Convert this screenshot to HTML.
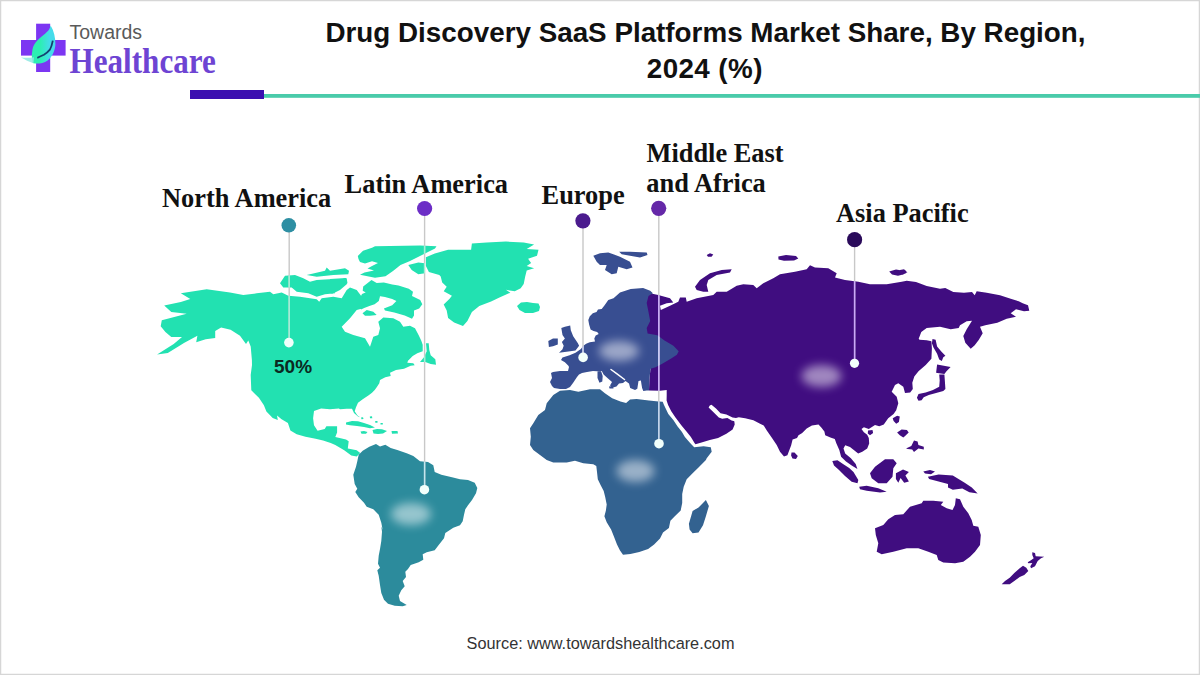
<!DOCTYPE html>
<html><head><meta charset="utf-8"><style>
html,body{margin:0;padding:0;background:#fff;}
#wrap{position:relative;width:1200px;height:675px;overflow:hidden;background:#fff;}
#wrap svg{position:absolute;left:0;top:0;}
</style></head><body><div id="wrap">
<svg width="1200" height="675" viewBox="0 0 1200 675">
<defs>
 <filter id="blur" x="-50%" y="-50%" width="200%" height="200%"><feGaussianBlur stdDeviation="5"/></filter>
 <linearGradient id="leaf" x1="0" y1="0" x2="1" y2="0">
  <stop offset="0.35" stop-color="#2cefb2"/><stop offset="0.75" stop-color="#45dcea"/>
 </linearGradient>
</defs>
<rect x="0.5" y="0.5" width="1199" height="674" fill="#fff" stroke="#d6d6d6" stroke-width="1.5"/>
<!-- logo -->
<g>
 <rect x="36.1" y="23.7" width="14.1" height="48.3" fill="#7c36f2"/>
 <rect x="21" y="40" width="44.6" height="15.6" fill="#7c36f2"/>
 <path d="M50.6,25.6 C54,31 55.5,38 55.4,44.4 C55,51 52,57 47.6,60.4 C43,63.5 37,64.2 32.8,63 C31.8,59 31.6,54.5 32.1,52.6 C32.4,48 33.5,45 35.8,42.2 C39,38 44,35 48.4,30.4 C49.5,29 50.3,27 50.6,25.6 Z" fill="url(#leaf)"/>
 <path d="M21,57.4 C25,59.5 29,61.8 33.5,63.2 L34,57.2 C29,58.2 25,57.8 21,57.4Z" fill="#8fe8e2" opacity="0.85"/>
 <path d="M52.8,40.7 C52,45 51.2,47.5 49.9,49.6 C47.5,52.5 46,53.5 43.9,54.8 C41.5,56 39.5,57 37.3,57.8" fill="none" stroke="#14406f" stroke-width="1.8"/>
 <text x="69.5" y="39" font-family="'Liberation Sans', sans-serif" font-size="19.5" fill="#5a5a5a">Towards</text>
 <text x="0" y="0" transform="translate(69.5,73.4) scale(0.865,1)" font-family="'Liberation Serif', serif" font-weight="bold" font-size="36" fill="#6e44d3">Healthcare</text>
</g>
<!-- title -->
<g font-family="'Liberation Sans', sans-serif" font-weight="bold" font-size="27.8" fill="#111" text-anchor="middle">
 <text x="705.5" y="42">Drug Discovery SaaS Platforms Market Share, By Region,</text>
 <text x="704.8" y="78" letter-spacing="0.4">2024 (%)</text>
</g>
<rect x="190" y="90" width="74" height="9" fill="#3b0fb0"/>
<rect x="264" y="94" width="936" height="3.8" fill="#4acbaa"/>

<defs><clipPath id="cNA"><path d="M180.8,293.3 L206.7,289.2 L230.0,292.5 L243.3,295.0 L256.7,293.3 L270.0,291.7 L273.3,294.2 L281.7,292.5 L288.3,295.8 L300.0,296.7 L316.7,299.2 L319.2,301.7 L321.7,298.3 L333.3,296.7 L341.7,298.3 L346.7,290.0 L350.0,287.5 L356.7,290.0 L362.0,297.0 L366.7,305.0 L363.3,308.3 L356.7,310.0 L350.0,318.3 L341.7,326.7 L345.0,331.7 L353.3,335.0 L365.0,338.3 L370.0,346.7 L373.3,336.7 L378.3,335.0 L380.0,328.3 L378.3,321.7 L383.3,317.5 L393.3,318.3 L400.0,321.7 L403.3,326.7 L410.0,325.8 L415.0,328.3 L418.7,335.3 L421.3,340.7 L422.7,344.7 L422.7,351.3 L417.3,353.3 L412.7,356.0 L408.0,360.7 L407.3,362.7 L413.3,363.3 L414.7,365.3 L410.7,365.7 L404.0,368.7 L396.0,370.0 L390.0,372.7 L390.7,376.0 L385.3,377.3 L380.0,380.0 L379.3,383.3 L376.7,387.3 L374.7,390.0 L372.0,392.7 L368.7,395.3 L362.7,399.3 L358.0,402.7 L356.0,407.3 L354.7,411.3 L357.3,415.3 L360.0,417.3 L358.0,416.5 L354.0,413.0 L352.0,408.7 L346.7,408.7 L340.0,409.3 L338.9,408.4 L330.0,409.3 L321.1,408.4 L314.0,411.1 L313.1,418.2 L314.0,425.3 L317.6,430.7 L324.7,428.9 L326.4,426.2 L337.1,426.2 L337.1,432.4 L335.3,436.9 L346.0,439.6 L348.7,441.3 L347.8,448.4 L356.7,450.2 L360.2,452.9 L356.7,456.4 L351.3,455.6 L344.2,450.2 L335.3,444.9 L330.7,443.1 L323.1,440.6 L315.6,438.7 L305.5,436.8 L296.7,434.3 L290.4,430.5 L287.9,423.0 L281.6,419.2 L277.0,415.5 L277.8,420.0 L272.7,417.9 L266.4,411.6 L263.9,405.3 L258.9,397.8 L251.3,390.2 L250.7,375.1 L252.0,365.0 L251.9,360.0 L250.7,346.4 L248.3,340.4 L246.0,344.0 L240.0,335.7 L230.6,329.8 L221.1,327.4 L215.2,331.0 L215.2,338.1 L205.7,339.2 L196.2,342.2 L197.4,335.7 L184.4,342.8 L167.8,352.9 L157.1,354.6 L173.7,344.0 L182.0,336.9 L171.3,336.9 L165.4,332.1 L160.7,326.2 L161.8,320.3 L186.7,313.8 L171.3,312.0 L164.2,305.5 L180.8,302.0 L190.3,299.0ZM280.0,283.3 L285.0,275.8 L295.0,275.0 L303.3,278.3 L310.0,281.7 L316.7,280.0 L346.7,278.3 L347.5,283.3 L333.3,286.7 L335.0,293.3 L325.0,294.2 L316.7,296.7 L308.3,293.3 L296.7,291.7 L291.7,287.5 L283.3,287.5ZM306.7,275.0 L325.0,270.8 L326.7,267.5 L330.0,270.8 L345.0,268.3 L349.0,270.8 L348.3,274.2 L333.3,275.0 L316.7,276.7ZM357.8,256.0 L363.0,250.8 L372.0,247.8 L375.0,246.3 L420.0,245.5 L436.5,246.3 L435.0,248.5 L420.0,256.0 L409.5,261.3 L400.5,265.0 L393.0,271.0 L385.5,276.3 L375.0,277.8 L360.0,274.8 L364.5,272.5 L374.0,270.5 L367.5,268.5 L372.0,266.0 L378.0,263.0 L372.0,261.3 L365.0,263.5 L360.0,262.0 L358.5,259.0ZM408.3,265.0 L418.3,262.5 L425.0,263.3 L425.0,273.3 L418.3,274.2 L411.7,270.0ZM363.2,286.6 L371.5,279.9 L376.7,283.0 L383.9,282.4 L392.2,284.5 L398.5,285.6 L408.8,288.7 L413.0,291.8 L412.0,295.9 L420.2,300.1 L422.3,304.2 L419.2,308.4 L414.0,310.5 L414.0,315.6 L412.0,318.8 L404.7,315.6 L394.3,312.5 L385.0,310.5 L383.9,308.4 L392.2,305.3 L396.4,301.1 L392.2,299.0 L385.0,297.0 L378.8,295.9 L373.6,298.0 L371.5,295.9 L371.5,293.3 L366.3,292.8 L362.7,290.7ZM330.0,279.0 L346.0,278.0 L347.0,284.0 L340.0,290.0 L332.0,294.0 L330.0,292.0ZM362.5,313.3 L366.7,310.0 L373.3,311.7 L376.7,315.0 L370.0,315.8 L365.0,315.8ZM359.0,300.0 L362.0,294.0 L369.0,291.0 L376.0,293.0 L380.0,296.5 L378.8,301.1 L374.6,304.2 L369.4,306.0 L364.2,308.0 L361.0,309.4 L359.5,305.0ZM426.0,343.3 L428.7,343.3 L429.3,350.0 L430.7,355.3 L435.3,359.3 L436.0,364.7 L430.7,364.0 L425.3,362.0 L420.0,362.0 L424.0,357.3 L426.7,351.3ZM425.9,257.2 L434.8,253.5 L448.1,249.8 L471.1,249.8 L471.9,243.6 L486.7,242.4 L505.9,241.6 L523.7,242.4 L534.1,244.6 L526.7,249.0 L538.5,249.8 L537.0,255.7 L528.1,258.7 L531.1,263.1 L526.7,266.1 L534.1,268.3 L526.7,270.5 L525.2,276.4 L523.7,283.9 L520.7,288.3 L514.8,291.3 L505.9,289.8 L510.4,292.7 L500.0,297.2 L491.1,301.6 L479.3,306.1 L471.9,312.0 L467.4,320.9 L463.0,326.1 L454.1,322.4 L448.1,317.9 L446.7,310.5 L443.7,304.6 L449.6,298.7 L451.9,295.7 L443.7,291.3 L446.7,286.8 L442.2,282.4 L440.7,276.4 L439.3,275.0 L428.9,272.0 L425.9,266.1ZM517.0,306.0 L521.0,302.5 L527.0,302.0 L533.0,303.0 L538.5,303.5 L540.0,307.0 L539.0,311.0 L533.0,313.0 L525.0,313.0 L519.5,310.0ZM346.0,422.5 L352.0,421.0 L358.0,421.3 L364.0,423.0 L370.0,425.0 L375.0,427.5 L370.0,428.2 L364.0,427.0 L357.0,426.0 L350.0,425.3 L346.0,424.5ZM372.5,430.0 L377.0,429.0 L382.0,429.2 L387.0,431.0 L383.0,433.5 L378.0,434.0 L373.5,433.5ZM360.5,431.5 L364.0,431.0 L367.5,432.0 L366.0,433.8 L361.5,433.8ZM391.5,431.0 L397.5,431.0 L398.0,433.5 L392.0,433.8ZM361.0,417.5 L363.0,417.2 L363.5,419.0 L361.5,419.3ZM369.8,416.5 L372.0,416.3 L372.3,418.3 L370.0,418.3ZM375.2,421.0 L377.5,421.0 L377.5,422.8 L375.3,422.8ZM380.5,423.0 L382.8,423.0 L382.8,424.6 L380.5,424.6Z"/></clipPath><clipPath id="cSA"><path d="M358.7,454.7 L362.7,450.7 L369.3,446.7 L376.0,444.0 L380.0,446.4 L385.3,444.7 L390.7,448.0 L397.3,450.0 L406.7,453.3 L413.3,456.0 L420.0,461.3 L428.0,462.0 L433.3,465.3 L434.7,472.0 L441.3,474.7 L452.0,477.3 L460.0,479.3 L468.0,480.0 L474.7,482.7 L477.3,488.0 L476.0,493.3 L472.0,500.0 L468.0,505.3 L465.3,509.3 L464.0,514.7 L462.7,521.3 L460.0,525.3 L453.3,527.7 L445.3,533.0 L444.0,538.3 L438.7,545.0 L434.7,550.3 L426.7,552.3 L422.7,554.3 L423.3,559.7 L418.7,562.3 L410.7,565.0 L408.0,569.0 L405.3,571.7 L406.0,577.0 L402.7,581.0 L404.7,586.3 L401.3,590.3 L398.7,595.7 L400.0,601.0 L406.7,605.0 L402.7,606.3 L394.7,605.7 L388.0,603.7 L384.0,599.7 L381.3,593.0 L380.0,585.0 L378.7,575.7 L377.3,570.3 L380.0,567.7 L378.0,563.7 L378.7,555.7 L380.0,549.0 L381.3,541.0 L382.0,531.7 L381.3,526.3 L382.7,530.0 L381.3,522.7 L378.7,514.7 L373.3,509.3 L366.7,506.7 L364.0,502.7 L358.7,497.3 L355.3,492.0 L357.3,488.7 L354.7,484.0 L353.3,474.7 L356.0,466.7 L357.3,461.3Z"/></clipPath><clipPath id="cAF"><path d="M553.3,395.0 L560.0,390.8 L570.0,390.0 L578.3,391.7 L590.0,389.2 L600.0,389.2 L604.9,393.3 L612.2,398.2 L620.4,401.4 L626.1,403.0 L630.1,399.4 L636.6,399.0 L648.9,400.6 L658.6,401.4 L662.7,401.8 L664.0,405.0 L668.3,414.0 L673.5,420.3 L677.6,426.5 L681.8,431.7 L684.9,436.9 L690.1,443.1 L694.2,447.2 L703.6,446.2 L710.8,447.2 L711.7,451.7 L706.7,458.3 L705.9,460.0 L698.5,467.4 L692.6,473.3 L686.7,479.3 L683.7,486.7 L682.2,494.1 L682.2,503.0 L680.7,510.4 L674.8,516.3 L670.4,520.7 L668.9,528.1 L663.0,532.6 L660.0,538.5 L654.1,544.4 L648.1,548.9 L639.3,551.9 L630.4,554.1 L623.0,554.8 L620.0,550.4 L617.0,544.4 L614.1,537.0 L611.1,529.6 L606.7,522.2 L604.4,516.3 L605.9,510.4 L606.7,504.4 L605.2,497.0 L603.7,491.1 L600.7,485.2 L597.8,479.3 L597.0,471.9 L596.3,465.9 L593.3,464.2 L583.3,463.3 L575.0,460.8 L566.7,462.5 L553.3,462.5 L546.7,460.0 L540.0,455.0 L533.3,450.0 L530.0,445.0 L530.8,436.7 L530.0,428.3 L533.3,423.3 L538.3,415.0 L545.0,410.0 L546.7,403.3ZM705.9,500.0 L708.9,505.9 L705.9,516.3 L703.0,525.2 L698.5,532.6 L692.6,533.3 L689.6,529.6 L688.9,523.7 L691.1,516.3 L692.6,511.1 L698.5,507.4 L703.0,503.0Z"/></clipPath><clipPath id="cAS"><path d="M646.7,294.2 L650.0,293.3 L658.3,295.0 L670.0,298.3 L673.3,302.5 L666.7,303.3 L660.0,305.8 L660.8,310.0 L670.0,305.8 L678.3,301.7 L680.0,297.5 L685.8,297.5 L686.7,301.7 L696.7,298.3 L713.3,295.0 L716.7,291.7 L726.7,291.7 L736.7,285.8 L743.3,284.2 L753.3,285.0 L756.7,288.3 L763.3,283.3 L773.3,278.3 L780.0,274.2 L795.0,271.7 L806.7,269.2 L810.0,265.3 L815.0,267.5 L828.3,268.3 L836.7,273.3 L835.0,277.5 L845.0,280.0 L858.3,281.7 L870.0,284.2 L886.7,284.2 L901.7,281.7 L906.7,280.7 L916.0,282.0 L926.7,286.0 L940.0,288.7 L945.3,288.0 L953.3,292.0 L964.0,292.7 L972.0,292.0 L974.7,295.3 L976.7,291.3 L986.7,292.7 L1000.0,295.3 L1010.7,298.7 L1018.7,301.3 L1022.7,303.3 L1028.0,305.3 L1029.3,310.7 L1024.0,311.3 L1016.0,309.3 L1010.7,313.3 L1016.0,316.7 L1006.7,318.7 L997.3,322.7 L985.3,325.3 L980.0,326.7 L982.7,333.3 L978.7,340.0 L974.7,345.3 L970.7,348.7 L965.3,342.7 L963.3,336.0 L966.7,329.3 L972.0,320.7 L966.7,321.3 L960.0,325.3 L958.7,328.0 L950.7,329.3 L940.0,326.7 L926.7,328.0 L921.3,332.0 L918.7,338.7 L919.5,339.7 L926.8,340.2 L931.4,341.2 L931.9,348.5 L931.4,358.8 L925.7,365.1 L918.5,371.3 L914.3,376.5 L912.3,382.7 L912.8,388.9 L910.2,392.5 L905.0,393.0 L903.3,386.7 L898.3,383.3 L895.0,385.0 L891.7,391.7 L896.7,396.7 L898.3,403.3 L896.2,410.3 L893.6,413.9 L888.2,418.3 L883.8,424.6 L879.3,426.3 L875.0,424.9 L868.8,429.0 L863.9,427.3 L861.5,429.0 L863.9,432.2 L867.2,434.7 L868.8,437.9 L869.2,443.6 L867.2,448.5 L862.3,451.8 L858.2,453.4 L854.1,450.2 L850.0,446.9 L845.2,445.3 L843.5,448.5 L845.2,453.4 L850.9,458.3 L855.7,464.0 L857.4,468.9 L851.7,465.6 L846.0,461.6 L841.1,456.7 L839.3,450.0 L836.3,443.3 L834.8,438.9 L830.4,437.4 L825.2,435.2 L824.4,431.5 L821.5,427.8 L818.5,424.4 L811.9,425.6 L806.7,428.5 L802.2,433.0 L798.5,435.2 L797.0,438.1 L792.6,439.6 L791.1,445.6 L787.4,455.2 L784.0,456.5 L780.0,451.7 L776.7,445.0 L772.0,437.9 L766.8,430.6 L763.7,425.5 L759.6,423.4 L753.4,420.3 L745.1,418.2 L738.8,417.2 L734.0,418.5 L734.7,424.4 L732.6,429.6 L726.4,433.8 L718.1,437.9 L709.8,440.0 L701.5,442.6 L695.5,444.3 L694.5,443.0 L690.9,436.9 L686.7,431.7 L681.5,425.5 L675.3,417.2 L671.1,410.9 L668.1,405.0 L666.6,400.6 L666.7,395.0 L666.7,390.0 L660.0,390.8 L649.0,390.5 L649.4,379.6 L650.5,368.8 L646.7,340.0 L640.0,320.0 L640.0,300.0ZM695.0,286.7 L700.0,280.0 L710.0,273.3 L721.7,270.0 L731.7,269.2 L730.0,272.5 L716.7,275.0 L708.3,280.0 L706.7,285.0 L708.3,291.7 L703.3,291.7 L696.7,290.0ZM778.3,256.5 L786.0,255.0 L796.0,256.0 L798.3,258.5 L794.0,260.5 L784.0,260.8 L778.5,259.5ZM889.2,271.5 L896.0,269.5 L902.0,270.5 L907.5,272.5 L903.0,274.5 L898.0,275.8 L892.0,274.5ZM900.0,270.0 L904.0,269.3 L906.7,271.5 L903.0,274.7 L900.0,273.0ZM706.7,255.0 L710.0,253.3 L713.3,254.5 L711.5,256.7 L708.0,256.7ZM932.5,339.1 L935.6,339.7 L937.1,346.4 L941.3,351.6 L945.4,355.7 L943.3,357.3 L941.8,360.9 L939.2,359.4 L937.1,353.7 L933.5,347.4 L931.9,343.3ZM937.1,364.5 L950.6,367.1 L946.5,371.3 L944.4,373.9 L939.2,373.3 L936.1,372.8ZM939.2,374.4 L944.4,374.4 L944.9,381.6 L945.4,388.9 L943.3,391.0 L936.1,393.0 L928.8,395.1 L923.7,397.2 L921.6,400.3 L918.5,400.8 L916.9,397.7 L918.5,394.1 L925.7,392.5 L933.0,389.9 L939.2,386.8 L939.7,380.6ZM892.7,418.3 L897.1,415.7 L899.8,416.6 L898.9,421.9 L896.2,423.7 L893.6,421.0ZM897.1,432.6 L901.6,429.4 L906.9,429.9 L908.7,432.6 L905.1,436.1 L903.3,437.4 L899.8,435.2ZM906.0,448.6 L911.3,445.9 L914.0,440.6 L917.6,441.4 L918.4,445.0 L923.8,446.8 L923.8,449.4 L918.4,448.6 L914.0,452.1 L912.2,449.4 L907.8,449.0ZM868.0,430.5 L872.5,429.9 L873.1,433.0 L870.0,435.2 L867.8,433.5ZM791.5,452.5 L794.5,452.5 L797.8,456.0 L796.0,458.9 L792.5,458.5 L791.1,455.5ZM832.3,461.0 L837.5,460.2 L843.0,464.0 L849.2,468.1 L853.5,472.0 L858.3,480.0 L857.5,483.3 L851.7,481.7 L845.0,476.0 L839.0,470.0 L834.0,465.5ZM859.2,486.7 L866.7,485.8 L878.3,488.3 L886.7,491.7 L880.0,492.5 L866.7,490.8 L860.0,489.2ZM870.0,473.3 L875.0,466.7 L885.0,459.2 L893.3,459.2 L896.7,463.3 L893.3,468.3 L892.5,476.7 L886.7,483.3 L878.3,483.3 L871.7,478.3ZM895.9,473.2 L903.0,469.6 L908.9,472.0 L905.4,475.6 L908.9,481.5 L904.2,482.7 L900.6,477.9 L898.3,482.7 L895.9,479.1ZM927.9,476.8 L938.6,474.4 L952.8,475.6 L964.7,482.7 L971.8,487.4 L977.7,493.4 L969.4,492.2 L962.3,488.6 L952.8,489.8 L948.0,487.4 L948.0,483.9 L938.6,481.5 L929.1,479.1ZM923.3,471.5 L930.0,470.0 L935.0,471.5 L931.0,474.2 L925.0,473.5ZM875.0,528.3 L883.3,525.0 L888.3,519.2 L895.0,515.0 L903.3,514.2 L910.0,506.7 L921.7,503.3 L923.3,500.8 L933.3,500.8 L943.3,501.7 L940.8,505.0 L946.7,508.3 L952.5,510.0 L955.0,505.0 L955.8,498.3 L960.0,499.2 L963.3,506.7 L968.3,513.3 L971.7,520.0 L973.3,525.8 L978.3,526.7 L980.8,535.0 L980.0,545.0 L975.0,551.7 L970.0,556.7 L963.3,561.7 L955.0,563.3 L943.3,562.5 L938.3,560.0 L936.7,555.0 L928.3,551.7 L918.3,548.3 L906.7,548.3 L893.3,551.7 L881.7,554.2 L876.7,551.7 L878.3,543.3 L875.8,535.0ZM1032.3,552.3 L1035.0,553.0 L1035.7,556.3 L1044.3,556.7 L1041.0,558.3 L1037.7,561.0 L1035.0,566.3 L1031.0,568.3 L1030.3,566.3 L1032.3,563.0 L1028.3,563.3 L1027.7,562.3 L1031.0,560.3 L1033.7,558.3 L1032.3,555.0ZM1023.0,565.7 L1026.3,567.7 L1028.3,571.0 L1024.3,575.0 L1019.7,577.0 L1014.3,581.0 L1009.7,584.3 L1001.7,584.3 L1005.0,581.0 L1009.7,577.7 L1014.3,573.0 L1019.7,568.3Z"/></clipPath><clipPath id="cEU"><path d="M620.0,292.5 L630.7,288.9 L643.1,288.0 L650.2,290.7 L652.9,293.3 L648.5,296.0 L646.7,303.1 L648.5,312.0 L650.2,320.9 L646.7,328.0 L647.6,333.4 L657.4,335.2 L664.5,340.5 L673.4,345.8 L678.7,351.2 L676.9,354.7 L671.6,358.3 L662.7,363.6 L655.6,367.2 L650.5,368.8 L649.4,379.6 L649.0,390.5 L646.8,390.5 L643.3,391.1 L642.1,388.1 L641.5,384.6 L640.9,380.4 L638.5,381.0 L637.3,388.7 L635.0,389.9 L630.2,388.1 L629.0,383.4 L625.5,381.0 L623.0,383.0 L619.0,383.5 L616.5,386.5 L613.0,387.5 L610.0,385.5 L612.0,382.0 L608.0,378.5 L603.6,374.5 L601.8,371.0 L597.0,371.2 L593.0,371.0 L587.0,372.0 L582.0,373.0 L579.0,374.5 L577.0,377.0 L575.0,380.0 L573.0,383.0 L570.0,387.0 L566.0,389.0 L560.0,389.0 L554.0,388.0 L552.0,386.0 L550.0,382.0 L552.0,378.0 L551.0,373.0 L553.0,372.0 L560.0,371.0 L568.0,371.0 L569.0,367.0 L568.4,365.8 L564.9,362.3 L561.0,360.0 L562.5,357.5 L569.6,355.2 L575.5,352.8 L580.9,348.9 L583.1,345.9 L586.1,343.7 L589.8,342.2 L595.0,341.5 L594.3,338.5 L595.7,335.6 L598.7,334.1 L597.2,331.9 L593.5,331.1 L590.6,329.6 L589.1,324.4 L588.3,320.0 L589.8,316.3 L592.8,313.3 L596.5,311.9 L598.0,309.6 L601.7,308.9 L604.6,305.2 L608.3,300.0 L613.5,298.3ZM561.3,327.9 L564.9,326.7 L570.2,325.5 L570.8,330.3 L573.2,336.2 L577.9,343.3 L579.1,345.7 L575.5,350.4 L568.4,351.6 L559.0,352.8 L562.5,349.2 L563.7,345.7 L561.9,342.1 L564.9,338.6 L562.5,335.0ZM548.3,340.9 L553.0,338.6 L557.8,338.6 L557.8,344.5 L553.0,346.3 L548.9,346.9ZM593.3,255.8 L600.0,253.3 L608.3,252.5 L613.3,254.2 L620.0,256.7 L630.0,261.7 L632.5,267.5 L626.7,269.2 L618.3,266.7 L616.7,273.3 L611.7,274.2 L605.0,270.0 L606.7,265.0 L600.0,265.0 L596.7,261.7ZM619.2,251.7 L630.0,251.7 L646.7,252.5 L647.5,255.0 L640.0,257.5 L630.0,255.8 L621.7,254.2ZM597.5,371.5 L601.0,371.0 L602.7,376.0 L602.3,381.5 L599.5,382.8 L597.5,378.0ZM609.0,386.5 L613.0,386.0 L613.5,388.5 L609.5,388.5Z"/></clipPath></defs>
<g id="map">
 <path fill="#22e1b1" d="M180.8,293.3 L206.7,289.2 L230.0,292.5 L243.3,295.0 L256.7,293.3 L270.0,291.7 L273.3,294.2 L281.7,292.5 L288.3,295.8 L300.0,296.7 L316.7,299.2 L319.2,301.7 L321.7,298.3 L333.3,296.7 L341.7,298.3 L346.7,290.0 L350.0,287.5 L356.7,290.0 L362.0,297.0 L366.7,305.0 L363.3,308.3 L356.7,310.0 L350.0,318.3 L341.7,326.7 L345.0,331.7 L353.3,335.0 L365.0,338.3 L370.0,346.7 L373.3,336.7 L378.3,335.0 L380.0,328.3 L378.3,321.7 L383.3,317.5 L393.3,318.3 L400.0,321.7 L403.3,326.7 L410.0,325.8 L415.0,328.3 L418.7,335.3 L421.3,340.7 L422.7,344.7 L422.7,351.3 L417.3,353.3 L412.7,356.0 L408.0,360.7 L407.3,362.7 L413.3,363.3 L414.7,365.3 L410.7,365.7 L404.0,368.7 L396.0,370.0 L390.0,372.7 L390.7,376.0 L385.3,377.3 L380.0,380.0 L379.3,383.3 L376.7,387.3 L374.7,390.0 L372.0,392.7 L368.7,395.3 L362.7,399.3 L358.0,402.7 L356.0,407.3 L354.7,411.3 L357.3,415.3 L360.0,417.3 L358.0,416.5 L354.0,413.0 L352.0,408.7 L346.7,408.7 L340.0,409.3 L338.9,408.4 L330.0,409.3 L321.1,408.4 L314.0,411.1 L313.1,418.2 L314.0,425.3 L317.6,430.7 L324.7,428.9 L326.4,426.2 L337.1,426.2 L337.1,432.4 L335.3,436.9 L346.0,439.6 L348.7,441.3 L347.8,448.4 L356.7,450.2 L360.2,452.9 L356.7,456.4 L351.3,455.6 L344.2,450.2 L335.3,444.9 L330.7,443.1 L323.1,440.6 L315.6,438.7 L305.5,436.8 L296.7,434.3 L290.4,430.5 L287.9,423.0 L281.6,419.2 L277.0,415.5 L277.8,420.0 L272.7,417.9 L266.4,411.6 L263.9,405.3 L258.9,397.8 L251.3,390.2 L250.7,375.1 L252.0,365.0 L251.9,360.0 L250.7,346.4 L248.3,340.4 L246.0,344.0 L240.0,335.7 L230.6,329.8 L221.1,327.4 L215.2,331.0 L215.2,338.1 L205.7,339.2 L196.2,342.2 L197.4,335.7 L184.4,342.8 L167.8,352.9 L157.1,354.6 L173.7,344.0 L182.0,336.9 L171.3,336.9 L165.4,332.1 L160.7,326.2 L161.8,320.3 L186.7,313.8 L171.3,312.0 L164.2,305.5 L180.8,302.0 L190.3,299.0ZM280.0,283.3 L285.0,275.8 L295.0,275.0 L303.3,278.3 L310.0,281.7 L316.7,280.0 L346.7,278.3 L347.5,283.3 L333.3,286.7 L335.0,293.3 L325.0,294.2 L316.7,296.7 L308.3,293.3 L296.7,291.7 L291.7,287.5 L283.3,287.5ZM306.7,275.0 L325.0,270.8 L326.7,267.5 L330.0,270.8 L345.0,268.3 L349.0,270.8 L348.3,274.2 L333.3,275.0 L316.7,276.7ZM357.8,256.0 L363.0,250.8 L372.0,247.8 L375.0,246.3 L420.0,245.5 L436.5,246.3 L435.0,248.5 L420.0,256.0 L409.5,261.3 L400.5,265.0 L393.0,271.0 L385.5,276.3 L375.0,277.8 L360.0,274.8 L364.5,272.5 L374.0,270.5 L367.5,268.5 L372.0,266.0 L378.0,263.0 L372.0,261.3 L365.0,263.5 L360.0,262.0 L358.5,259.0ZM408.3,265.0 L418.3,262.5 L425.0,263.3 L425.0,273.3 L418.3,274.2 L411.7,270.0ZM363.2,286.6 L371.5,279.9 L376.7,283.0 L383.9,282.4 L392.2,284.5 L398.5,285.6 L408.8,288.7 L413.0,291.8 L412.0,295.9 L420.2,300.1 L422.3,304.2 L419.2,308.4 L414.0,310.5 L414.0,315.6 L412.0,318.8 L404.7,315.6 L394.3,312.5 L385.0,310.5 L383.9,308.4 L392.2,305.3 L396.4,301.1 L392.2,299.0 L385.0,297.0 L378.8,295.9 L373.6,298.0 L371.5,295.9 L371.5,293.3 L366.3,292.8 L362.7,290.7ZM330.0,279.0 L346.0,278.0 L347.0,284.0 L340.0,290.0 L332.0,294.0 L330.0,292.0ZM362.5,313.3 L366.7,310.0 L373.3,311.7 L376.7,315.0 L370.0,315.8 L365.0,315.8ZM359.0,300.0 L362.0,294.0 L369.0,291.0 L376.0,293.0 L380.0,296.5 L378.8,301.1 L374.6,304.2 L369.4,306.0 L364.2,308.0 L361.0,309.4 L359.5,305.0ZM426.0,343.3 L428.7,343.3 L429.3,350.0 L430.7,355.3 L435.3,359.3 L436.0,364.7 L430.7,364.0 L425.3,362.0 L420.0,362.0 L424.0,357.3 L426.7,351.3ZM425.9,257.2 L434.8,253.5 L448.1,249.8 L471.1,249.8 L471.9,243.6 L486.7,242.4 L505.9,241.6 L523.7,242.4 L534.1,244.6 L526.7,249.0 L538.5,249.8 L537.0,255.7 L528.1,258.7 L531.1,263.1 L526.7,266.1 L534.1,268.3 L526.7,270.5 L525.2,276.4 L523.7,283.9 L520.7,288.3 L514.8,291.3 L505.9,289.8 L510.4,292.7 L500.0,297.2 L491.1,301.6 L479.3,306.1 L471.9,312.0 L467.4,320.9 L463.0,326.1 L454.1,322.4 L448.1,317.9 L446.7,310.5 L443.7,304.6 L449.6,298.7 L451.9,295.7 L443.7,291.3 L446.7,286.8 L442.2,282.4 L440.7,276.4 L439.3,275.0 L428.9,272.0 L425.9,266.1ZM517.0,306.0 L521.0,302.5 L527.0,302.0 L533.0,303.0 L538.5,303.5 L540.0,307.0 L539.0,311.0 L533.0,313.0 L525.0,313.0 L519.5,310.0ZM346.0,422.5 L352.0,421.0 L358.0,421.3 L364.0,423.0 L370.0,425.0 L375.0,427.5 L370.0,428.2 L364.0,427.0 L357.0,426.0 L350.0,425.3 L346.0,424.5ZM372.5,430.0 L377.0,429.0 L382.0,429.2 L387.0,431.0 L383.0,433.5 L378.0,434.0 L373.5,433.5ZM360.5,431.5 L364.0,431.0 L367.5,432.0 L366.0,433.8 L361.5,433.8ZM391.5,431.0 L397.5,431.0 L398.0,433.5 L392.0,433.8ZM361.0,417.5 L363.0,417.2 L363.5,419.0 L361.5,419.3ZM369.8,416.5 L372.0,416.3 L372.3,418.3 L370.0,418.3ZM375.2,421.0 L377.5,421.0 L377.5,422.8 L375.3,422.8ZM380.5,423.0 L382.8,423.0 L382.8,424.6 L380.5,424.6Z"/>
 <path fill="#2c8b9c" d="M358.7,454.7 L362.7,450.7 L369.3,446.7 L376.0,444.0 L380.0,446.4 L385.3,444.7 L390.7,448.0 L397.3,450.0 L406.7,453.3 L413.3,456.0 L420.0,461.3 L428.0,462.0 L433.3,465.3 L434.7,472.0 L441.3,474.7 L452.0,477.3 L460.0,479.3 L468.0,480.0 L474.7,482.7 L477.3,488.0 L476.0,493.3 L472.0,500.0 L468.0,505.3 L465.3,509.3 L464.0,514.7 L462.7,521.3 L460.0,525.3 L453.3,527.7 L445.3,533.0 L444.0,538.3 L438.7,545.0 L434.7,550.3 L426.7,552.3 L422.7,554.3 L423.3,559.7 L418.7,562.3 L410.7,565.0 L408.0,569.0 L405.3,571.7 L406.0,577.0 L402.7,581.0 L404.7,586.3 L401.3,590.3 L398.7,595.7 L400.0,601.0 L406.7,605.0 L402.7,606.3 L394.7,605.7 L388.0,603.7 L384.0,599.7 L381.3,593.0 L380.0,585.0 L378.7,575.7 L377.3,570.3 L380.0,567.7 L378.0,563.7 L378.7,555.7 L380.0,549.0 L381.3,541.0 L382.0,531.7 L381.3,526.3 L382.7,530.0 L381.3,522.7 L378.7,514.7 L373.3,509.3 L366.7,506.7 L364.0,502.7 L358.7,497.3 L355.3,492.0 L357.3,488.7 L354.7,484.0 L353.3,474.7 L356.0,466.7 L357.3,461.3Z"/>
 <path fill="#336290" d="M553.3,395.0 L560.0,390.8 L570.0,390.0 L578.3,391.7 L590.0,389.2 L600.0,389.2 L604.9,393.3 L612.2,398.2 L620.4,401.4 L626.1,403.0 L630.1,399.4 L636.6,399.0 L648.9,400.6 L658.6,401.4 L662.7,401.8 L664.0,405.0 L668.3,414.0 L673.5,420.3 L677.6,426.5 L681.8,431.7 L684.9,436.9 L690.1,443.1 L694.2,447.2 L703.6,446.2 L710.8,447.2 L711.7,451.7 L706.7,458.3 L705.9,460.0 L698.5,467.4 L692.6,473.3 L686.7,479.3 L683.7,486.7 L682.2,494.1 L682.2,503.0 L680.7,510.4 L674.8,516.3 L670.4,520.7 L668.9,528.1 L663.0,532.6 L660.0,538.5 L654.1,544.4 L648.1,548.9 L639.3,551.9 L630.4,554.1 L623.0,554.8 L620.0,550.4 L617.0,544.4 L614.1,537.0 L611.1,529.6 L606.7,522.2 L604.4,516.3 L605.9,510.4 L606.7,504.4 L605.2,497.0 L603.7,491.1 L600.7,485.2 L597.8,479.3 L597.0,471.9 L596.3,465.9 L593.3,464.2 L583.3,463.3 L575.0,460.8 L566.7,462.5 L553.3,462.5 L546.7,460.0 L540.0,455.0 L533.3,450.0 L530.0,445.0 L530.8,436.7 L530.0,428.3 L533.3,423.3 L538.3,415.0 L545.0,410.0 L546.7,403.3ZM705.9,500.0 L708.9,505.9 L705.9,516.3 L703.0,525.2 L698.5,532.6 L692.6,533.3 L689.6,529.6 L688.9,523.7 L691.1,516.3 L692.6,511.1 L698.5,507.4 L703.0,503.0Z"/>
 <path fill="#400d80" d="M646.7,294.2 L650.0,293.3 L658.3,295.0 L670.0,298.3 L673.3,302.5 L666.7,303.3 L660.0,305.8 L660.8,310.0 L670.0,305.8 L678.3,301.7 L680.0,297.5 L685.8,297.5 L686.7,301.7 L696.7,298.3 L713.3,295.0 L716.7,291.7 L726.7,291.7 L736.7,285.8 L743.3,284.2 L753.3,285.0 L756.7,288.3 L763.3,283.3 L773.3,278.3 L780.0,274.2 L795.0,271.7 L806.7,269.2 L810.0,265.3 L815.0,267.5 L828.3,268.3 L836.7,273.3 L835.0,277.5 L845.0,280.0 L858.3,281.7 L870.0,284.2 L886.7,284.2 L901.7,281.7 L906.7,280.7 L916.0,282.0 L926.7,286.0 L940.0,288.7 L945.3,288.0 L953.3,292.0 L964.0,292.7 L972.0,292.0 L974.7,295.3 L976.7,291.3 L986.7,292.7 L1000.0,295.3 L1010.7,298.7 L1018.7,301.3 L1022.7,303.3 L1028.0,305.3 L1029.3,310.7 L1024.0,311.3 L1016.0,309.3 L1010.7,313.3 L1016.0,316.7 L1006.7,318.7 L997.3,322.7 L985.3,325.3 L980.0,326.7 L982.7,333.3 L978.7,340.0 L974.7,345.3 L970.7,348.7 L965.3,342.7 L963.3,336.0 L966.7,329.3 L972.0,320.7 L966.7,321.3 L960.0,325.3 L958.7,328.0 L950.7,329.3 L940.0,326.7 L926.7,328.0 L921.3,332.0 L918.7,338.7 L919.5,339.7 L926.8,340.2 L931.4,341.2 L931.9,348.5 L931.4,358.8 L925.7,365.1 L918.5,371.3 L914.3,376.5 L912.3,382.7 L912.8,388.9 L910.2,392.5 L905.0,393.0 L903.3,386.7 L898.3,383.3 L895.0,385.0 L891.7,391.7 L896.7,396.7 L898.3,403.3 L896.2,410.3 L893.6,413.9 L888.2,418.3 L883.8,424.6 L879.3,426.3 L875.0,424.9 L868.8,429.0 L863.9,427.3 L861.5,429.0 L863.9,432.2 L867.2,434.7 L868.8,437.9 L869.2,443.6 L867.2,448.5 L862.3,451.8 L858.2,453.4 L854.1,450.2 L850.0,446.9 L845.2,445.3 L843.5,448.5 L845.2,453.4 L850.9,458.3 L855.7,464.0 L857.4,468.9 L851.7,465.6 L846.0,461.6 L841.1,456.7 L839.3,450.0 L836.3,443.3 L834.8,438.9 L830.4,437.4 L825.2,435.2 L824.4,431.5 L821.5,427.8 L818.5,424.4 L811.9,425.6 L806.7,428.5 L802.2,433.0 L798.5,435.2 L797.0,438.1 L792.6,439.6 L791.1,445.6 L787.4,455.2 L784.0,456.5 L780.0,451.7 L776.7,445.0 L772.0,437.9 L766.8,430.6 L763.7,425.5 L759.6,423.4 L753.4,420.3 L745.1,418.2 L738.8,417.2 L734.0,418.5 L734.7,424.4 L732.6,429.6 L726.4,433.8 L718.1,437.9 L709.8,440.0 L701.5,442.6 L695.5,444.3 L694.5,443.0 L690.9,436.9 L686.7,431.7 L681.5,425.5 L675.3,417.2 L671.1,410.9 L668.1,405.0 L666.6,400.6 L666.7,395.0 L666.7,390.0 L660.0,390.8 L649.0,390.5 L649.4,379.6 L650.5,368.8 L646.7,340.0 L640.0,320.0 L640.0,300.0ZM695.0,286.7 L700.0,280.0 L710.0,273.3 L721.7,270.0 L731.7,269.2 L730.0,272.5 L716.7,275.0 L708.3,280.0 L706.7,285.0 L708.3,291.7 L703.3,291.7 L696.7,290.0ZM778.3,256.5 L786.0,255.0 L796.0,256.0 L798.3,258.5 L794.0,260.5 L784.0,260.8 L778.5,259.5ZM889.2,271.5 L896.0,269.5 L902.0,270.5 L907.5,272.5 L903.0,274.5 L898.0,275.8 L892.0,274.5ZM900.0,270.0 L904.0,269.3 L906.7,271.5 L903.0,274.7 L900.0,273.0ZM706.7,255.0 L710.0,253.3 L713.3,254.5 L711.5,256.7 L708.0,256.7ZM932.5,339.1 L935.6,339.7 L937.1,346.4 L941.3,351.6 L945.4,355.7 L943.3,357.3 L941.8,360.9 L939.2,359.4 L937.1,353.7 L933.5,347.4 L931.9,343.3ZM937.1,364.5 L950.6,367.1 L946.5,371.3 L944.4,373.9 L939.2,373.3 L936.1,372.8ZM939.2,374.4 L944.4,374.4 L944.9,381.6 L945.4,388.9 L943.3,391.0 L936.1,393.0 L928.8,395.1 L923.7,397.2 L921.6,400.3 L918.5,400.8 L916.9,397.7 L918.5,394.1 L925.7,392.5 L933.0,389.9 L939.2,386.8 L939.7,380.6ZM892.7,418.3 L897.1,415.7 L899.8,416.6 L898.9,421.9 L896.2,423.7 L893.6,421.0ZM897.1,432.6 L901.6,429.4 L906.9,429.9 L908.7,432.6 L905.1,436.1 L903.3,437.4 L899.8,435.2ZM906.0,448.6 L911.3,445.9 L914.0,440.6 L917.6,441.4 L918.4,445.0 L923.8,446.8 L923.8,449.4 L918.4,448.6 L914.0,452.1 L912.2,449.4 L907.8,449.0ZM868.0,430.5 L872.5,429.9 L873.1,433.0 L870.0,435.2 L867.8,433.5ZM791.5,452.5 L794.5,452.5 L797.8,456.0 L796.0,458.9 L792.5,458.5 L791.1,455.5ZM832.3,461.0 L837.5,460.2 L843.0,464.0 L849.2,468.1 L853.5,472.0 L858.3,480.0 L857.5,483.3 L851.7,481.7 L845.0,476.0 L839.0,470.0 L834.0,465.5ZM859.2,486.7 L866.7,485.8 L878.3,488.3 L886.7,491.7 L880.0,492.5 L866.7,490.8 L860.0,489.2ZM870.0,473.3 L875.0,466.7 L885.0,459.2 L893.3,459.2 L896.7,463.3 L893.3,468.3 L892.5,476.7 L886.7,483.3 L878.3,483.3 L871.7,478.3ZM895.9,473.2 L903.0,469.6 L908.9,472.0 L905.4,475.6 L908.9,481.5 L904.2,482.7 L900.6,477.9 L898.3,482.7 L895.9,479.1ZM927.9,476.8 L938.6,474.4 L952.8,475.6 L964.7,482.7 L971.8,487.4 L977.7,493.4 L969.4,492.2 L962.3,488.6 L952.8,489.8 L948.0,487.4 L948.0,483.9 L938.6,481.5 L929.1,479.1ZM923.3,471.5 L930.0,470.0 L935.0,471.5 L931.0,474.2 L925.0,473.5ZM875.0,528.3 L883.3,525.0 L888.3,519.2 L895.0,515.0 L903.3,514.2 L910.0,506.7 L921.7,503.3 L923.3,500.8 L933.3,500.8 L943.3,501.7 L940.8,505.0 L946.7,508.3 L952.5,510.0 L955.0,505.0 L955.8,498.3 L960.0,499.2 L963.3,506.7 L968.3,513.3 L971.7,520.0 L973.3,525.8 L978.3,526.7 L980.8,535.0 L980.0,545.0 L975.0,551.7 L970.0,556.7 L963.3,561.7 L955.0,563.3 L943.3,562.5 L938.3,560.0 L936.7,555.0 L928.3,551.7 L918.3,548.3 L906.7,548.3 L893.3,551.7 L881.7,554.2 L876.7,551.7 L878.3,543.3 L875.8,535.0ZM1032.3,552.3 L1035.0,553.0 L1035.7,556.3 L1044.3,556.7 L1041.0,558.3 L1037.7,561.0 L1035.0,566.3 L1031.0,568.3 L1030.3,566.3 L1032.3,563.0 L1028.3,563.3 L1027.7,562.3 L1031.0,560.3 L1033.7,558.3 L1032.3,555.0ZM1023.0,565.7 L1026.3,567.7 L1028.3,571.0 L1024.3,575.0 L1019.7,577.0 L1014.3,581.0 L1009.7,584.3 L1001.7,584.3 L1005.0,581.0 L1009.7,577.7 L1014.3,573.0 L1019.7,568.3Z"/>
 <path fill="#384e91" d="M620.0,292.5 L630.7,288.9 L643.1,288.0 L650.2,290.7 L652.9,293.3 L648.5,296.0 L646.7,303.1 L648.5,312.0 L650.2,320.9 L646.7,328.0 L647.6,333.4 L657.4,335.2 L664.5,340.5 L673.4,345.8 L678.7,351.2 L676.9,354.7 L671.6,358.3 L662.7,363.6 L655.6,367.2 L650.5,368.8 L649.4,379.6 L649.0,390.5 L646.8,390.5 L643.3,391.1 L642.1,388.1 L641.5,384.6 L640.9,380.4 L638.5,381.0 L637.3,388.7 L635.0,389.9 L630.2,388.1 L629.0,383.4 L625.5,381.0 L623.0,383.0 L619.0,383.5 L616.5,386.5 L613.0,387.5 L610.0,385.5 L612.0,382.0 L608.0,378.5 L603.6,374.5 L601.8,371.0 L597.0,371.2 L593.0,371.0 L587.0,372.0 L582.0,373.0 L579.0,374.5 L577.0,377.0 L575.0,380.0 L573.0,383.0 L570.0,387.0 L566.0,389.0 L560.0,389.0 L554.0,388.0 L552.0,386.0 L550.0,382.0 L552.0,378.0 L551.0,373.0 L553.0,372.0 L560.0,371.0 L568.0,371.0 L569.0,367.0 L568.4,365.8 L564.9,362.3 L561.0,360.0 L562.5,357.5 L569.6,355.2 L575.5,352.8 L580.9,348.9 L583.1,345.9 L586.1,343.7 L589.8,342.2 L595.0,341.5 L594.3,338.5 L595.7,335.6 L598.7,334.1 L597.2,331.9 L593.5,331.1 L590.6,329.6 L589.1,324.4 L588.3,320.0 L589.8,316.3 L592.8,313.3 L596.5,311.9 L598.0,309.6 L601.7,308.9 L604.6,305.2 L608.3,300.0 L613.5,298.3ZM561.3,327.9 L564.9,326.7 L570.2,325.5 L570.8,330.3 L573.2,336.2 L577.9,343.3 L579.1,345.7 L575.5,350.4 L568.4,351.6 L559.0,352.8 L562.5,349.2 L563.7,345.7 L561.9,342.1 L564.9,338.6 L562.5,335.0ZM548.3,340.9 L553.0,338.6 L557.8,338.6 L557.8,344.5 L553.0,346.3 L548.9,346.9ZM593.3,255.8 L600.0,253.3 L608.3,252.5 L613.3,254.2 L620.0,256.7 L630.0,261.7 L632.5,267.5 L626.7,269.2 L618.3,266.7 L616.7,273.3 L611.7,274.2 L605.0,270.0 L606.7,265.0 L600.0,265.0 L596.7,261.7ZM619.2,251.7 L630.0,251.7 L646.7,252.5 L647.5,255.0 L640.0,257.5 L630.0,255.8 L621.7,254.2ZM597.5,371.5 L601.0,371.0 L602.7,376.0 L602.3,381.5 L599.5,382.8 L597.5,378.0ZM609.0,386.5 L613.0,386.0 L613.5,388.5 L609.5,388.5Z"/>
 <path fill="#fff" d="M709.8,405.5 L711.5,404.8 L716.0,408.5 L720.5,413.3 L726.4,414.6 L732.6,417.6 L736.0,418.0 L735.5,421.5 L731.6,420.6 L727.4,418.0 L722.2,418.8 L718.8,417.6 L713.8,412.4 L708.6,407.5Z"/>
 <path fill="none" stroke="#fff" stroke-width="1.5" stroke-linecap="round" d="M611,369.5 L617,373.8 L624.5,379.5"/>
</g>
<!-- blurred values -->
<g fill="#fff" filter="url(#blur)" opacity="0.5">
 <ellipse cx="411" cy="514" rx="20" ry="11"/>
 <ellipse cx="619" cy="351" rx="20" ry="10"/>
 <ellipse cx="635.5" cy="471" rx="19" ry="11"/>
 <ellipse cx="821.5" cy="376" rx="20" ry="11"/>
</g>
<!-- lines -->
<g stroke="#c8c8c8" stroke-width="1.4">
 <line x1="289.2" y1="226" x2="289.2" y2="342"/>
 <line x1="424.6" y1="209" x2="424.6" y2="489"/>
 <line x1="583" y1="221" x2="583" y2="357"/>
 <line x1="658.8" y1="208" x2="658.8" y2="443"/>
 <line x1="854.6" y1="240" x2="854.6" y2="363"/></g><g clip-path="url(#cNA)" stroke="#9ff2d8" stroke-width="1.4">
 <line x1="289.2" y1="226" x2="289.2" y2="342"/>
 <line x1="424.6" y1="209" x2="424.6" y2="489"/>
 <line x1="583" y1="221" x2="583" y2="357"/>
 <line x1="658.8" y1="208" x2="658.8" y2="443"/>
 <line x1="854.6" y1="240" x2="854.6" y2="363"/></g><g clip-path="url(#cSA)" stroke="#c4e6ee" stroke-width="1.4">
 <line x1="289.2" y1="226" x2="289.2" y2="342"/>
 <line x1="424.6" y1="209" x2="424.6" y2="489"/>
 <line x1="583" y1="221" x2="583" y2="357"/>
 <line x1="658.8" y1="208" x2="658.8" y2="443"/>
 <line x1="854.6" y1="240" x2="854.6" y2="363"/></g><g clip-path="url(#cAF)" stroke="#c2d6f0" stroke-width="1.4">
 <line x1="289.2" y1="226" x2="289.2" y2="342"/>
 <line x1="424.6" y1="209" x2="424.6" y2="489"/>
 <line x1="583" y1="221" x2="583" y2="357"/>
 <line x1="658.8" y1="208" x2="658.8" y2="443"/>
 <line x1="854.6" y1="240" x2="854.6" y2="363"/></g><g clip-path="url(#cAS)" stroke="#caa8fa" stroke-width="1.4">
 <line x1="289.2" y1="226" x2="289.2" y2="342"/>
 <line x1="424.6" y1="209" x2="424.6" y2="489"/>
 <line x1="583" y1="221" x2="583" y2="357"/>
 <line x1="658.8" y1="208" x2="658.8" y2="443"/>
 <line x1="854.6" y1="240" x2="854.6" y2="363"/></g><g clip-path="url(#cEU)" stroke="#c8d0f4" stroke-width="1.4">
 <line x1="289.2" y1="226" x2="289.2" y2="342"/>
 <line x1="424.6" y1="209" x2="424.6" y2="489"/>
 <line x1="583" y1="221" x2="583" y2="357"/>
 <line x1="658.8" y1="208" x2="658.8" y2="443"/>
 <line x1="854.6" y1="240" x2="854.6" y2="363"/></g>
<!-- pins -->
<circle cx="288.8" cy="225.3" r="7.3" fill="#2e8fa3"/>
<circle cx="424.6" cy="208.5" r="7.6" fill="#6c2ec6"/>
<circle cx="582.9" cy="220.8" r="7.6" fill="#4b1b8e"/>
<circle cx="658.7" cy="208.3" r="7.6" fill="#6528a8"/>
<circle cx="854.6" cy="239.7" r="7.6" fill="#2a0a5a"/>
<!-- dots -->
<g fill="#f2fffb">
 <circle cx="288.9" cy="342.6" r="4.8"/>
 <circle cx="424.4" cy="489.7" r="4.8"/>
 <circle cx="583.1" cy="357.4" r="4.8"/>
 <circle cx="659" cy="443.7" r="4.8"/>
 <circle cx="854.5" cy="363.3" r="4.6"/>
</g>
<text x="274" y="373.3" font-family="'Liberation Sans', sans-serif" font-weight="bold" font-size="19" fill="#0b2a22">50%</text>
<!-- labels -->
<g font-family="'Liberation Serif', serif" font-weight="bold" font-size="26.4" fill="#111">
 <text x="162" y="206.7">North America</text>
 <text x="344.6" y="192.9">Latin America</text>
 <text x="541.6" y="204.2">Europe</text>
 <text x="646.5" y="161.7">Middle East</text>
 <text x="646.3" y="191.7">and Africa</text>
 <text x="836" y="222">Asia Pacific</text>
</g>
<text x="466.6" y="649.2" font-family="'Liberation Sans', sans-serif" font-size="16.3" fill="#333">Source: www.towardshealthcare.com</text>
</svg>
</div></body></html>
